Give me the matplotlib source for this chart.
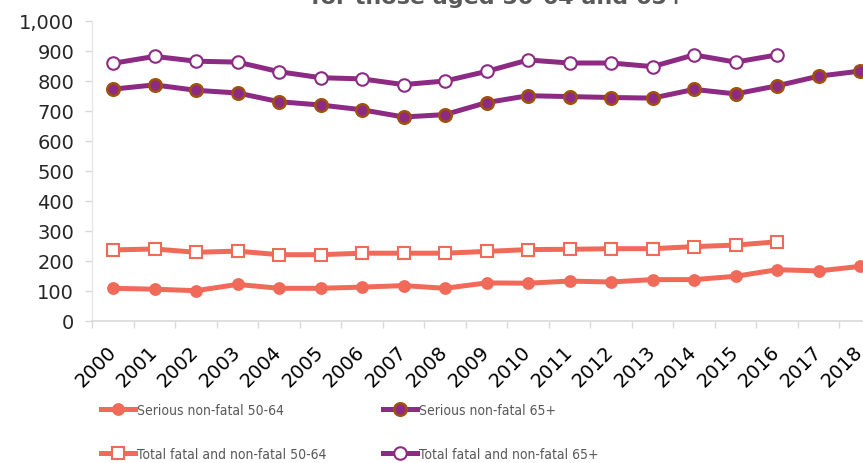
import matplotlib
matplotlib.use("Agg")
import matplotlib.pyplot as plt
from matplotlib import font_manager as fm

years = [str(y) for y in range(2000, 2019)]
serious_50_64 = [108, 105, 100, 121, 108, 108, 112, 117, 108, 126, 125, 132, 129, 137, 137, 148, 170, 166, 181]
serious_65 = [772, 786, 768, 759, 730, 719, 703, 679, 687, 727, 750, 747, 744, 742, 771, 756, 783, 815, 832]
total_50_64 = [236, 239, 228, 232, 220, 220, 225, 225, 225, 231, 237, 238, 240, 240, 247, 252, 263]
total_65 = [858, 881, 865, 862, 830, 810, 806, 787, 799, 831, 869, 859, 859, 847, 886, 862, 886]

labels = ["Serious non-fatal 50-64", "Serious non-fatal 65+",
          "Total fatal and non-fatal 50-64", "Total fatal and non-fatal 65+"]

SALMON = "#F06A5A"
PURPLE = "#8C2A84"
BROWN = "#A0520A"

# pick a condensed font for the legend if one is installed
narrow = None
for f in fm.fontManager.ttflist:
    fn = f.fname.replace("-", "").lower()
    if "liberationsansnarrowregular" in fn:
        narrow = f.fname
        break
if narrow is None:
    for f in fm.fontManager.ttflist:
        if "dejavusanscondensed.ttf" in f.fname.replace("-", "").lower():
            narrow = f.fname
            break

fig = plt.figure(figsize=(8.63, 4.64), dpi=100)
ax = fig.add_axes([92.3 / 863, 1 - 321.7 / 464, 788.5 / 863, 300 / 464])

x = list(range(len(years)))
lw = 3.6
ms = 8
h1, = ax.plot(x, serious_50_64, color=SALMON, lw=lw, marker="o", ms=ms,
              mfc=SALMON, mec=SALMON, mew=1.2)
h3, = ax.plot(x[:len(total_50_64)], total_50_64, color=SALMON, lw=lw, marker="s", ms=ms,
              mfc="white", mec=SALMON, mew=1.5)
h2, = ax.plot(x, serious_65, color=PURPLE, lw=lw, marker="o", ms=ms + 1,
              mfc=PURPLE, mec=BROWN, mew=1.8)
h4, = ax.plot(x[:len(total_65)], total_65, color=PURPLE, lw=lw, marker="o", ms=ms + 1,
              mfc="white", mec=PURPLE, mew=1.5)

ax.set_xlim(-0.5, len(years) - 0.5)
ax.set_ylim(0, 1000)
ax.set_yticks(range(0, 1001, 100))
ax.set_yticklabels([f"{v:,}" for v in range(0, 1001, 100)])
ax.set_xticks([i - 0.5 for i in range(len(years) + 1)], minor=False)
ax.set_xticklabels([])
ax.set_xticks(x, minor=True)
ax.set_xticklabels(years, minor=True, rotation=45, ha="right", va="center",
                   rotation_mode="anchor")
ax.tick_params(axis="x", which="minor", length=0, pad=20, labelsize=14, labelcolor="black")
ax.tick_params(axis="x", which="major", length=5, color="#D9D9D9", width=1)
ax.tick_params(axis="y", length=5, color="#D9D9D9", width=1, labelsize=14, pad=8,
               labelcolor="#262626")

for s in ["top", "right"]:
    ax.spines[s].set_visible(False)
ax.spines["left"].set_color("#E6E6E6")
ax.spines["bottom"].set_color("#D9D9D9")
ax.spines["left"].set_linewidth(1)
ax.spines["bottom"].set_linewidth(1.2)

fig.text(498 / 863, 1 - 4 / 464, "for those aged 50-64 and 65+", ha="center",
         va="baseline", fontsize=16, fontweight="bold", color="#595959")

if narrow is not None:
    fs = 10
    prop = fm.FontProperties(fname=narrow, size=fs)
else:
    fs = 9
    prop = fm.FontProperties(family=["Lato", "DejaVu Sans"], size=fs)
px = fs * 100 / 72
leg = fig.legend([h1, h3, h2, h4], [labels[0], labels[2], labels[1], labels[3]],
                 ncol=2, loc="upper left", bbox_to_anchor=(100.7 / 863, 1 - 404 / 464),
                 frameon=False, prop=prop, handlelength=34 / px,
                 handletextpad=2 / px, columnspacing=57 / px,
                 labelspacing=(44 - px) / px,
                 borderpad=0, borderaxespad=0)
for t in leg.get_texts():
    t.set_color("#595959")

fig.savefig("out.png", dpi=100)
